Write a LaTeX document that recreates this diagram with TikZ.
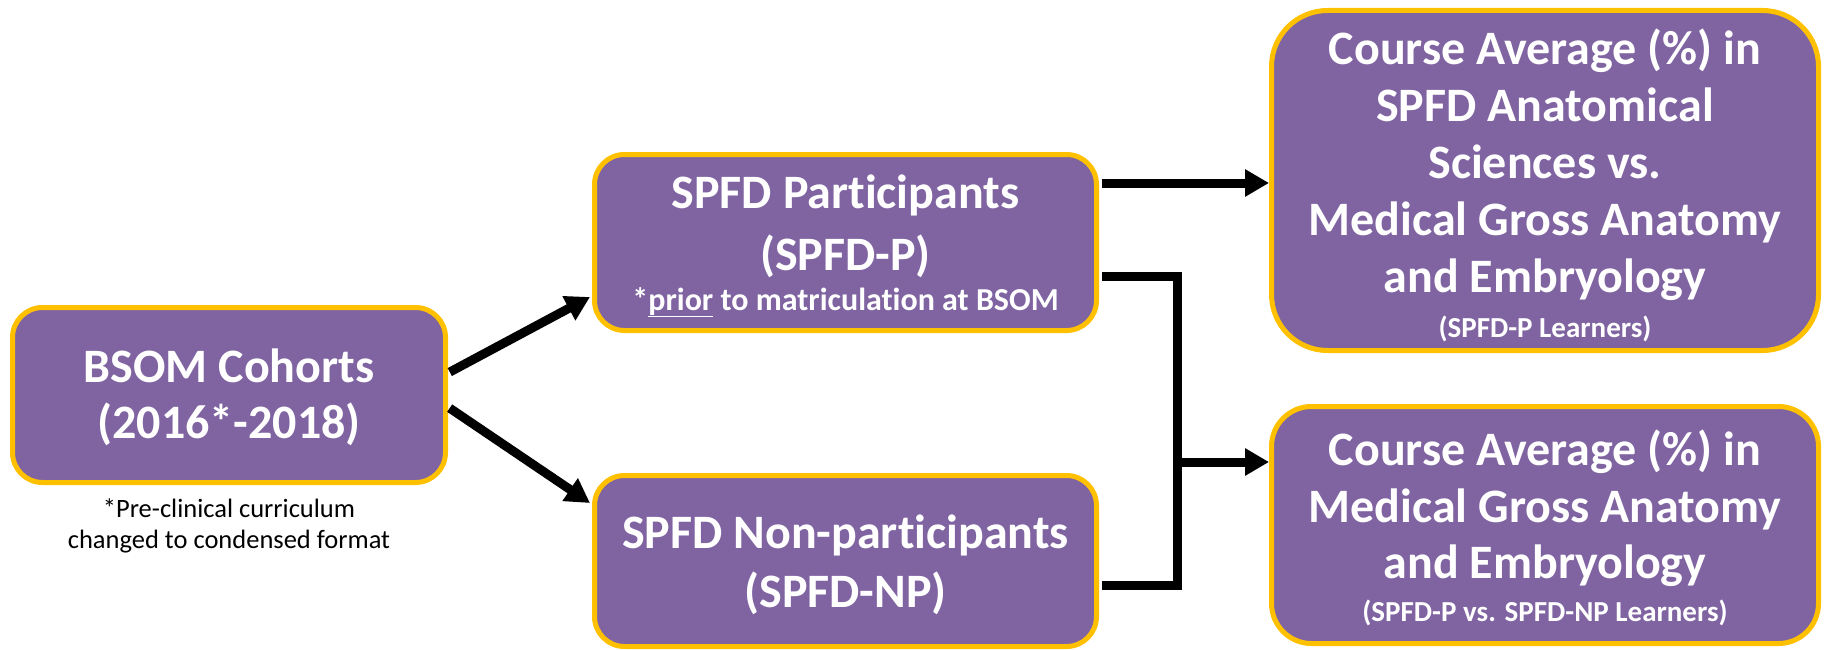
\documentclass[tikz,border=0pt]{standalone}
\usepackage{fontspec}
\setmainfont{Carlito}[Ligatures=NoCommon]
\usetikzlibrary{arrows.meta,calc}
\definecolor{boxpurple}{HTML}{8064A2}
\definecolor{boxgold}{HTML}{FFC000}
\newcommand\bigtxt{\fontsize{48}{57}\selectfont}
\newcommand\prtxt{\fontsize{32}{38}\selectfont}
\newcommand\smtxt{\fontsize{29}{35}\selectfont}
\newcommand\captxt{\fontsize{26.5}{31}\selectfont}
\newcommand\tstrut[1]{\rule{0pt}{#1pt}}
\newcommand\bstrut[1]{\rule[-#1pt]{0pt}{#1pt}}
\tikzset{
  box/.style={draw=boxgold, fill=boxpurple, line width=5pt, text=white,
    font=\bfseries\bigtxt, align=center, inner sep=0pt},
  conn/.style={line width=9pt, draw=black, line join=miter},
  arr/.style={conn, -{Triangle[length=24pt,width=26pt]}},
  caption/.style={font=\captxt, align=center, text=black, inner sep=0pt}
}
\begin{document}
\begin{tikzpicture}[x=1pt,y=-1pt]
\useasboundingbox (0,0) rectangle (1825,650);
\node[box, rounded corners=30pt, minimum width=433pt, minimum height=175pt] (bsom) at (229,395)
  {\tstrut{45}BSOM Cohorts\\[-1pt](2016*-2018)\bstrut{15}};
\node[caption] (note) at (229,524) {\tstrut{25}*Pre-clinical curriculum\\changed to condensed format\bstrut{8}};
\node[box, rounded corners=30pt, minimum width=502pt, minimum height=176pt] (spfdp) at (845.5,242.5)
  {\tstrut{48}SPFD Participants\\[5pt](SPFD-P)\\[-17pt]{\prtxt *\underline{prior} to matriculation at BSOM\bstrut{15}}};
\node[box, rounded corners=30pt, minimum width=502pt, minimum height=171pt] (spfdnp) at (845.5,561)
  {\tstrut{48}SPFD Non-participants\\[2pt](SPFD-NP)\bstrut{15}};
\node[box, rounded corners=56pt, minimum width=547pt, minimum height=340pt] (course1) at (1545,180.5)
  {\tstrut{52}Course Average (\%) in\\SPFD Anatomical\\Sciences vs.\\Medical Gross Anatomy\\and Embryology\\[-12pt]{\smtxt (SPFD-P Learners)\bstrut{12}}};
\node[box, rounded corners=40pt, minimum width=547pt, minimum height=237pt] (course2) at (1545,525)
  {\tstrut{48}Course Average (\%) in\\Medical Gross Anatomy\\[-1pt]and Embryology\\[-14pt]{\smtxt (SPFD-P vs. SPFD-NP Learners)\bstrut{12}}};
\coordinate (elbowtop) at (1177,276);
\coordinate (elbowbot) at (1177,585);
\coordinate (elbowmid) at (1177,462);
\draw[arr, shorten <=2pt] ([yshift=22pt]bsom.east) -- ([xshift=-2pt,yshift=-54.5pt]spfdp.west);
\draw[arr, shorten <=2pt] ([yshift=-12pt]bsom.east) -- ([xshift=-2pt,yshift=58pt]spfdnp.west);
\draw[arr, shorten <=2.5pt] ([yshift=59.5pt]spfdp.east) -- ([yshift=59.5pt]spfdp.east -| course1.west);
\draw[conn, shorten <=2.5pt, shorten >=2.5pt] ([yshift=-33.5pt]spfdp.east) -- (elbowtop) -- (elbowbot) -- ([yshift=-24pt]spfdnp.east);
\draw[arr] (elbowmid) -- (elbowmid -| course2.west);
\end{tikzpicture}
\end{document}
